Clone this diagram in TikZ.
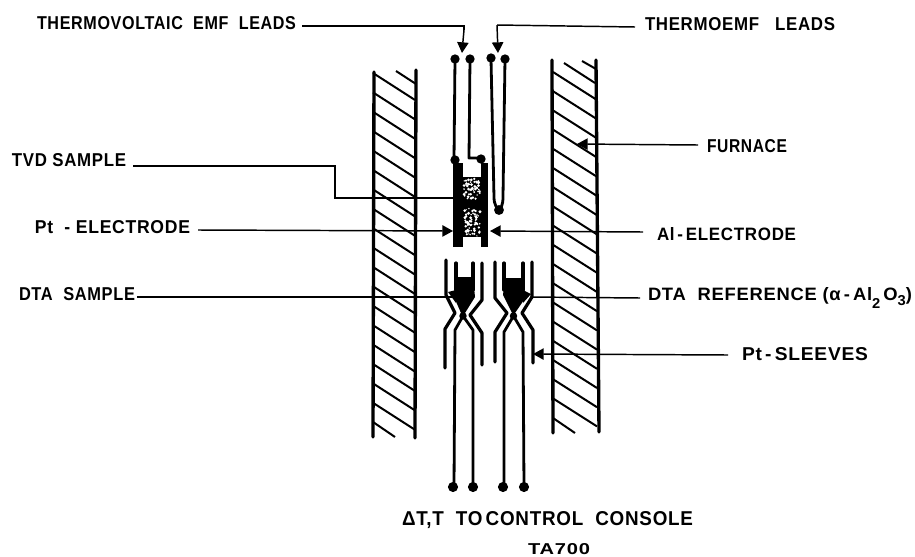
\documentclass[tikz,border=0pt]{standalone}
\usepackage{fontspec}
\usepackage{graphicx}
\setmainfont{Liberation Sans}[LetterSpace=4]
\usetikzlibrary{arrows.meta}
\newlength\px
\setlength\px{0.75pt}
\newcommand\lab[6]{\node[lbl,anchor=west] (#1) at (#2,#3) {\resizebox{#4\px}{#5\px}{\bfseries #6}};}
\tikzset{
  lbl/.style={inner sep=0pt,outer sep=0pt},
  wall/.style={line width=2.5pt,line cap=round},
  hatchline/.style={line width=1.5pt},
  wire/.style={line width=2.1pt,line join=round,line cap=round},
  sleeve/.style={line width=2.4pt,line join=round,line cap=round},
  leader/.style={line width=1.1pt},
  pointer/.style={leader,-{Triangle[length=8pt,width=8.5pt]}}
}
\begin{document}
\begin{tikzpicture}[x=0.75pt,y=-0.75pt]
\useasboundingbox (0,0) rectangle (915,557);
% furnace, left
\draw[wall] (374,72) -- (373,437);
\draw[wall] (416,70) -- (415,438);
\foreach \k in {0,...,17} \draw[hatchline] (373,{73+19.4*\k}) -- ++(42,27);
\draw[hatchline] (373,422) -- (395,437);
\draw[hatchline] (396,71) -- (416,84);
% furnace, right
\draw[wall] (552,60) -- (553,433);
\draw[wall] (596,60) -- (599,432);
\foreach \k in {0,...,17} \draw[hatchline] (553,{72+19.2*\k}) -- ++(44,28);
\draw[hatchline] (553,418) -- (575,433);
\draw[hatchline] (564,63) -- (595,83);
\draw[hatchline] (582,61) -- (596,69);
% TVD cell
\fill (453,163) rectangle (463,247);
\fill (481,163) rectangle (488,247);
\fill (463,177) rectangle (481,237);
\pgfmathsetseed{7}
\foreach \k in {1,...,130}{
  \pgfmathsetmacro{\sx}{464+16*rnd}
  \pgfmathsetmacro{\sy}{178+58*rnd}
  \pgfmathsetmacro{\sr}{0.5+0.7*rnd}
  \ifdim\sy pt>199pt \ifdim\sy pt<208pt \else
    \fill[white] (\sx,\sy) circle[radius=\sr pt];\fi
  \else
    \fill[white] (\sx,\sy) circle[radius=\sr pt];\fi
}
% upper leads
\draw[wire] (455,59) -- (454,160);
\draw[wire] (470,59) -- (469,158) -- (481,158);
\draw[wire] (491,59) -- (494,197) .. controls (494,205) and (497,208) .. (499,210)
  .. controls (501,208) and (503,205) .. (503,197) -- (505,59);
\foreach \p in {(455,59),(470,59),(491,58),(505,59),(455,160),(481,159)}
  \fill \p circle[radius=3.5pt];
\fill (499,210) circle[radius=3.7pt];
% DTA left
\draw[sleeve] (446,260) -- (446,295) -- (455,313) -- (445,329) -- (445,368);
\draw[sleeve] (482,263) -- (482,300) -- (470,315) -- (482,333) -- (482,365);
\draw[sleeve] (456,263) -- (456,290);
\draw[sleeve] (473,263) -- (473,290);
\fill (456,277) -- (473,277) -- (475,297) -- (465,313) -- (461,313) -- (454,297) -- cycle;
\fill (448,292) -- (456,290) -- (456,303) -- cycle;
\fill (463,316) circle[radius=2.8pt];
\draw[wire] (463,316) -- (455,330) -- (454,487);
\draw[wire] (463,316) -- (473,330) -- (473,487);
% DTA right
\draw[sleeve] (495,262) -- (495,298) -- (507,313) -- (495,332) -- (495,362);
\draw[sleeve] (532,262) -- (532,297) -- (522,313) -- (533,330) -- (533,363);
\draw[sleeve] (504,263) -- (504,290);
\draw[sleeve] (523,263) -- (523,290);
\fill (505,278) -- (522,278) -- (526,297) -- (515,313) -- (512,313) -- (503,295) -- cycle;
\fill (531,294) -- (523,290) -- (523,303) -- cycle;
\fill (513.5,316) circle[radius=2.8pt];
\draw[wire] (513.5,316) -- (504,332) -- (504,487);
\draw[wire] (513.5,316) -- (523,332) -- (524,487);
\foreach \x in {453,473,503,524} \fill (\x,487) circle[radius=3.8pt];
% labels
\lab{thv}{37}{23}{259}{13}{THERMOVOLTAIC\ \ EMF\ \ LEADS}
\lab{thm}{645}{24}{190}{13}{THERMOEMF\ \ \ LEADS}
\lab{tvd}{12}{160}{114}{13}{TVD SAMPLE}
\lab{pte}{35}{227}{155}{13}{Pt\ \ -\ ELECTRODE}
\lab{dts}{19}{294}{116}{13}{DTA\ \ SAMPLE}
\lab{fur}{707}{146}{80}{13}{FURNACE}
\lab{ale}{657}{234}{139}{13}{Al\,-\,ELECTRODE}
\lab{dtr}{648}{298}{264}{13}{DTA\ \ REFERENCE\ (α\,-\,Al\raisebox{-.45em}{\footnotesize 2}\,O\raisebox{-.3em}{\footnotesize 3})}
\lab{pts}{742}{354}{126}{13}{Pt\,-\,SLEEVES}
\lab{con}{402}{520}{291}{14}{ΔT,T\ \ TO\,CONTROL\ \ CONSOLE}
\lab{tac}{528}{549}{62}{11}{TA700}
% leaders
\coordinate (tTh) at (462,53);
\coordinate (tTm) at (498,53);
\coordinate (tTv) at (453,198);
\coordinate (tPt) at (453,231);
\coordinate (tDs) at (454,297);
\coordinate (tFu) at (577,144);
\coordinate (tAl) at (490,231);
\coordinate (tDr) at (530,297);
\coordinate (tSl) at (533,354);
\draw[leader] ([shift={(6,3)}]thv.east) -- (464,26) -- (464,30);
\draw[pointer] (464,30) -- (463,41) -- (tTh);
\draw[leader] ([shift={(-10,3)}]thm.west) -- (497,25);
\draw[pointer] (497,25) -- (tTm);
\draw[leader] ([shift={(7,6)}]tvd.east) -- (335,166) -- (335,198) -- (tTv);
\draw[pointer] ([shift={(8,3)}]pte.east) -- (tPt);
\draw[leader] ([shift={(2,3)}]dts.east) -- (tDs);
\draw[pointer] ([shift={(-9,-1)}]fur.west) -- (tFu);
\draw[pointer] ([shift={(-14,-2)}]ale.west) -- (tAl);
\draw[leader] ([shift={(-8,0)}]dtr.west) -- (tDr);
\draw[pointer] ([shift={(-14,1)}]pts.west) -- (tSl);
\end{tikzpicture}
\end{document}
